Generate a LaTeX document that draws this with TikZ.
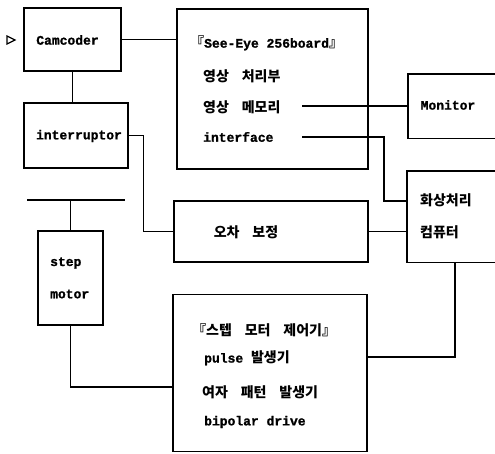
\documentclass[tikz,border=0pt]{standalone}
\usepackage{fontspec}
\setmainfont{Liberation Mono}[BoldFeatures={FakeBold=1.2}]
\newfontfamily\kor{Noto Sans CJK KR}[WordSpace=4]
\newcommand\K[1]{{\fontsize{14}{16}\selectfont\kor #1}}
\tikzset{
  box/.style={draw, line width=1.2pt, inner sep=0pt},
  openbox/.style={inner sep=0pt, anchor=north west},
  wire/.style={line width=1.2pt},
  lbl/.style={inner sep=0pt, anchor=west, font=\fontsize{13}{15}\selectfont\bfseries},
  clbl/.style={inner sep=0pt, font=\fontsize{13}{15}\selectfont\bfseries},
}
\begin{document}
\begin{tikzpicture}[x=1pt,y=-1pt]
\useasboundingbox (0,0) rectangle (495,453);
% boxes
\node[box, minimum width=97pt, minimum height=63pt] (cam) at (72.5,39.5) {};
\node[box, minimum width=104pt, minimum height=65pt] (intr) at (76,135.5) {};
\node[box, minimum width=191pt, minimum height=160pt] (see) at (272.5,89) {};
\node[box, minimum width=194pt, minimum height=61pt] (ocha) at (271,231.5) {};
\node[box, minimum width=65pt, minimum height=94pt] (motor) at (70.5,278) {};
\node[box, minimum width=194pt, minimum height=157pt] (ctrl) at (270,373) {};
\node[openbox, minimum width=87pt, minimum height=64pt] (mon) at (408,74) {};
\node[openbox, minimum width=88pt, minimum height=91pt] (hwa) at (407,171) {};
\draw[wire] (mon.north east) -- (mon.north west) -- (mon.south west) -- (mon.south east);
\draw[wire] (hwa.north east) -- (hwa.north west) -- (hwa.south west) -- (hwa.south east);
% texts
\node[clbl] (tcam) at (67.5,40) {Camcoder};
\node[clbl] (tintr) at (79,136) {interruptor};
\node[lbl] (see1) at (190,43) {\K{『}See-Eye 256board\K{』}};
\node[lbl] (see2) at (203,76) {\K{영상 처리부}};
\node[lbl] (see3) at (203,107) {\K{영상 메모리}};
\node[lbl] (see4) at (203,137) {interface};
\node[clbl] (tmon) at (448,105) {Monitor};
\node[lbl] (hwa1) at (420,200) {\K{화상처리}};
\node[lbl] (hwa2) at (420,232) {\K{컴퓨터}};
\node[clbl] (tocha) at (246,232) {\K{오차 보정}};
\node[lbl] (step1) at (50,263) {step};
\node[lbl] (step2) at (50,294) {motor};
\node[lbl] (ctrl1) at (192,330) {\K{『스텝 모터 제어기』}};
\node[lbl] (ctrl2) at (204,358) {pulse \K{발생기}};
\node[lbl] (ctrl3) at (202,392) {\K{여자 패턴 발생기}};
\node[lbl] (ctrl4) at (204,422) {bipolar drive};
% coordinates
\coordinate (memL) at (302,106);
\coordinate (ifL) at (302,137);
\coordinate (hwaIn) at (407,201);
\coordinate (ctrlR) at (367,357);
\coordinate (hwaB) at (455,262);
\coordinate (ctrlL) at (173,387);
\coordinate (mountL) at (27,200);
\coordinate (mountR) at (125,200);
\coordinate (mount) at (70.5,200);
% input triangle
\draw[line width=1.2pt, line join=miter] (7,36) -- (15,40) -- (7,44) -- cycle;
% connectors
\draw[wire] (cam.east) -- (cam.east -| see.west);
\draw[wire] (cam.south) -- (cam.south |- intr.north);
\draw[wire] (intr.east) -- ++(15,0) |- (ocha.west);
\draw[wire] (ocha.east) -- (ocha.east -| hwa.west);
\draw[wire] (memL) -- (memL -| mon.west);
\draw[wire] (ifL) -- (384,137) |- (hwaIn);
\draw[wire] (ctrlR) -| (hwaB);
\draw[wire] (ctrlL) -| (motor.south);
\draw[wire] (mountL) -- (mountR);
\draw[wire] (mount) -- (motor.north);
\end{tikzpicture}
\end{document}
